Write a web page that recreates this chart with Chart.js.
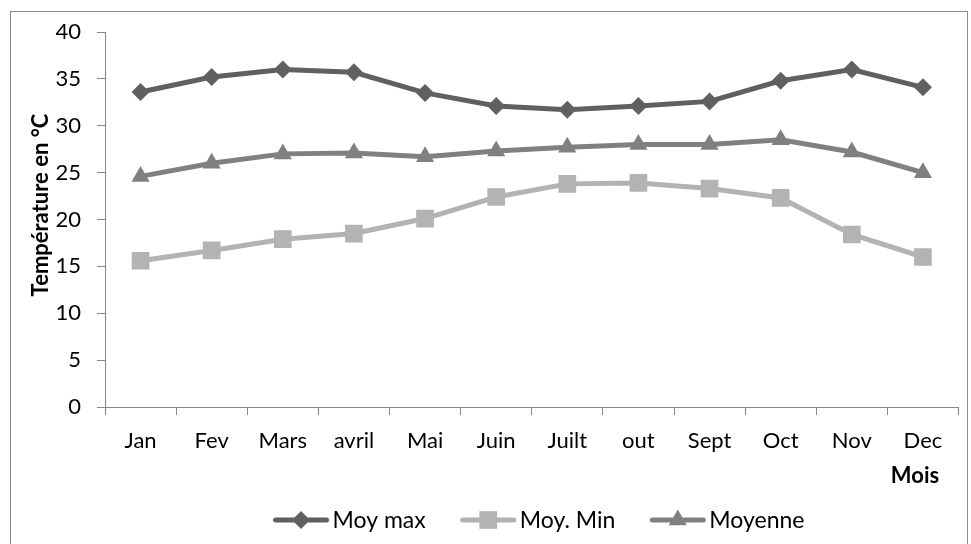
<!DOCTYPE html>
<html>
<head>
<meta charset="utf-8">
<script src="https://cdn.jsdelivr.net/npm/chart.js@4.4.1/dist/chart.umd.min.js"></script>
<style>
    body { margin: 0; background: #fff; overflow: hidden; }
    #frame { position: absolute; left: 10px; top: 11px; width: 956px; height: 560px; border: 1px solid #8c8c8c; }
    #wrap { position: absolute; left: 0; top: 0; width: 971px; height: 544px; }
</style>
</head>
<body>
<div id="frame"></div>
<div id="wrap"><canvas id="chart"></canvas></div>
<script>
// data
const months = ['Jan', 'Fev', 'Mars', 'avril', 'Mai', 'Juin', 'Juilt', 'out', 'Sept', 'Oct', 'Nov', 'Dec'];
const moyMax = [33.6, 35.2, 36.0, 35.7, 33.5, 32.1, 31.7, 32.1, 32.6, 34.8, 36.0, 34.1];
const moyMin = [15.6, 16.7, 17.9, 18.5, 20.1, 22.4, 23.8, 23.9, 23.3, 22.3, 18.4, 16.0];
const moyenne = [24.6, 26.0, 27.0, 27.1, 26.7, 27.3, 27.7, 28.0, 28.0, 28.5, 27.2, 25.0];
const yTicks = [0, 5, 10, 15, 20, 25, 30, 35, 40];

const fontName = 'Lato, "Open Sans", sans-serif';
const axisColor = '#868686';

function makeSeries(label, values, color, style, radius) {
    return {
        label: label,
        data: values,
        borderColor: color,
        backgroundColor: color,
        borderWidth: 5,
        pointStyle: style,
        pointRadius: radius,
        pointHoverRadius: radius,
        pointBorderWidth: 0,
        tension: 0
    };
}

// titles + legend drawn by hand so the legend sample can be line + marker
const extras = {
    id: 'extras',
    afterDraw(chart) {
        const c = chart.ctx;
        c.save();
        c.fillStyle = '#000';
        c.font = 'bold 22px ' + fontName;
        c.textAlign = 'center';
        c.textBaseline = 'middle';
        c.translate(41, 205);
        c.rotate(-Math.PI / 2);
        c.fillText('Température en °C', 0, 0);
        c.restore();

        c.save();
        c.fillStyle = '#000';
        c.font = 'bold 22px ' + fontName;
        c.textAlign = 'center';
        c.textBaseline = 'middle';
        c.fillText('Mois', 915, 476);

        c.font = '23px ' + fontName;
        c.textAlign = 'left';
        const sampleW = 55, gapText = 4, gapItem = 35, y = 520;
        const items = chart.data.datasets.map((ds) => ({ ds: ds, w: sampleW + gapText + c.measureText(ds.label).width }));
        const total = items.reduce((s, it) => s + it.w, 0) + gapItem * (items.length - 1);
        let x = 539 - total / 2;
        items.forEach((it) => {
            c.strokeStyle = it.ds.borderColor;
            c.lineWidth = 5;
            c.lineCap = 'round';
            c.beginPath();
            c.moveTo(x + 2, y);
            c.lineTo(x + sampleW - 2, y);
            c.stroke();
            c.fillStyle = it.ds.borderColor;
            Chart.helpers.drawPoint(c, { pointStyle: it.ds.pointStyle, radius: it.ds.pointRadius, borderWidth: 0 }, x + sampleW / 2, y);
            c.fillStyle = '#000';
            c.fillText(it.ds.label, x + sampleW + gapText, y + 1);
            x += it.w + gapItem;
        });
        c.restore();
    }
};

const ctxt = document.getElementById('chart').getContext('2d');
new Chart(ctxt, {
    type: 'line',
    data: {
        labels: months,
        datasets: [
            makeSeries('Moy max', moyMax, '#606060', 'rectRot', 9),
            makeSeries('Moy. Min', moyMin, '#b3b3b3', 'rect', 12.5),
            makeSeries('Moyenne', moyenne, '#808080', 'triangle', 10.5)
        ]
    },
    options: {
        responsive: true,
        maintainAspectRatio: false,
        animation: false,
        events: [],
        layout: { padding: { left: 20, top: 32, right: 9, bottom: 57 } },
        plugins: { legend: { display: false }, tooltip: { enabled: false } },
        scales: {
            x: {
                offset: true,
                grid: { offset: true, drawOnChartArea: false, tickLength: 8, color: axisColor },
                border: { color: axisColor, width: 1 },
                ticks: { color: '#000', font: { family: fontName, size: 22 }, padding: 13, maxRotation: 0 },
                afterFit(scale) { scale.height = 80; }
            },
            y: {
                min: 0,
                max: 40,
                grid: { drawOnChartArea: false, tickLength: 8, color: axisColor },
                border: { color: axisColor, width: 1 },
                afterBuildTicks(scale) { scale.ticks = yTicks.map((v) => ({ value: v })); },
                ticks: { color: '#000', font: { family: fontName, size: 22 }, padding: 16 },
                afterFit(scale) { scale.width = 85; }
            }
        }
    },
    plugins: [extras]
});
</script>
</body>
</html>
